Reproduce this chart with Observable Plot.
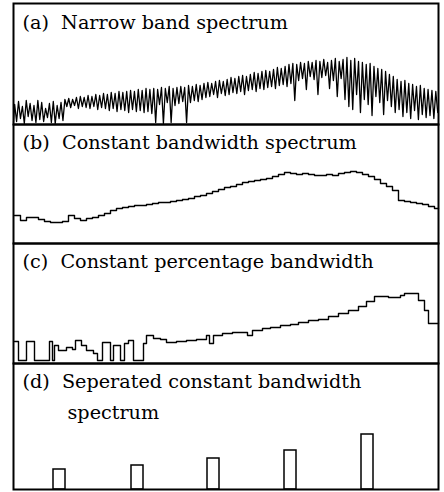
<!DOCTYPE html>
<html><head><meta charset="utf-8">
<script src="https://cdn.jsdelivr.net/npm/d3@7"></script>
<script src="https://cdn.jsdelivr.net/npm/@observablehq/plot@0.6"></script>
<style>
body{margin:0;background:#fff;}
#fig{position:relative;width:444px;height:492px;}
#fig svg{position:absolute;overflow:visible;}
</style></head><body><div id="fig"></div>
<script>
// Panel titles
const titleA = "(a)\u00a0 Narrow band spectrum";
const titleB = "(b)\u00a0 Constant bandwidth spectrum";
const titleC = "(c)\u00a0 Constant percentage bandwidth";
const titleD1 = "(d)\u00a0 Seperated constant bandwidth";
const titleD2 = "spectrum";

// (a) narrow band spectrum: peak and trough levels for each harmonic cycle
const aPeaks = [20,23,18,24,21,19,24,22,16,21,23,19,22,
  25,26,25,27,28,27,29,28,30,29,31,30,32,31,33,32,33,34,33,35,34,36,35,
  36,35,37,36,38,36,37,38,37,39,38,40,39,41,
  42,41,43,44,43,45,47,46,48,49,48,50,52,51,53,54,53,55,57,56,58,60,61,
  60,62,61,63,62,64,63,65,62,64,66,63,65,67,64,
  66,63,62,60,61,58,56,55,53,50,48,
  45,43,44,41,40,38,39,36,35,34,33];
const aTroughs = [3,6,1,8,4,2,5,3,7,2,1,6,4,
  18,17,19,16,18,17,16,18,15,17,16,14,16,13,15,14,12,15,13,14,12,13,11,
  2,20,1,22,2,19,21,23,2,22,24,23,25,27,
  28,30,27,31,29,30,32,31,33,30,34,35,33,36,35,37,38,36,39,40,38,41,24,
  44,46,35,48,45,30,47,49,36,44,28,46,25,18,15,
  30,12,25,20,9,28,22,10,24,18,12,
  15,8,12,6,14,5,10,7,9,6,12];

// (b) constant bandwidth spectrum: level in each equal-width band
const bLevels = [28,23,26,26,24,22,21,21,22,28,25,23,25,26,28,30,33,35,36,37,38,38,39,40,41,41,42,43,44,45,47,48,50,52,54,56,57,59,61,62,63,64,65,67,69,71,70,69,70,69,68,68,69,68,70,71,72,71,69,67,64,60,57,53,43,42,41,40,39,37,35];

// (c) constant percentage bandwidth: band lower edges and levels
const cEdges = [1,5,13,21,36,39,41,45,53,59,62,68,73,80,84,89,97,100,107,111,115,120,130,133,140,147,153,163,173,183,193,196,200,209,219,234,239,249,257,267,277,285,295,305,315,325,335,345,353,361,375,387,391,405,411,415,425];
const cLevels = [22,3,22,3,22,3,18,13,16,14,23,18,13,10,3,21,3,18,3,20,23,3,20,28,25,24,21,22,23,24,28,20,28,30,31,28,33,35,36,38,39,41,43,44,47,50,53,57,62,67,66,68,70,63,53,40];

// (d) separated constant bandwidth spectrum: band centres and levels
const dCenters = [46,124,200,277,354];
const dLevels = [20,24,31,39,55];
const dBandwidth = 12;

const FONT = "DejaVu Serif";
const fig = document.getElementById("fig");

function panel(top, h, marks) {
  const svg = Plot.plot({
    width: 427, height: h + 2, margin: 1,
    x: {domain: [0, 425], axis: null},
    y: {domain: [0, h], axis: null},
    style: {background: "transparent", overflow: "visible", fontFamily: FONT},
    marks: [...marks, Plot.frame({stroke: "black", strokeWidth: 2})]
  });
  svg.style.top = (top - 1) + "px";
  svg.style.left = "12px";
  fig.append(svg);
}
function title(t, dx = 9, dy = 25) {
  return Plot.text([t], {frameAnchor: "top-left", lineAnchor: "bottom", dx, dy, text: d => d,
    fontSize: 19.2, fill: "black", fontFamily: FONT});
}

// (a)
const aStep = 425 / (aPeaks.length * 2);
const aData = [{x: 0, y: 2}];
aPeaks.forEach((p, k) => {
  aData.push({x: (2 * k + 0.6) * aStep, y: p});
  aData.push({x: (2 * k + 1.6) * aStep, y: aTroughs[k]});
});
panel(3, 121, [
  Plot.line(aData, {x: "x", y: "y", stroke: "black", strokeWidth: 1.3, strokeLinejoin: "round"}),
  title(titleA)
]);

// (b)
const bW = 6;
const bData = bLevels.map((v, i) => ({x: 1 + i * bW, y: v}));
bData.push({x: 425, y: bLevels[bLevels.length - 1]});
panel(124, 119, [
  Plot.line(bData, {x: "x", y: "y", curve: "step-after", stroke: "black", strokeWidth: 1.4}),
  title(titleB, 9, 24)
]);

// (c)
const cData = cLevels.map((v, i) => ({x: cEdges[i], y: v}));
cData.push({x: cEdges[cEdges.length - 1], y: cLevels[cLevels.length - 1]});
panel(243, 120, [
  Plot.line(cData, {x: "x", y: "y", curve: "step-after", stroke: "black", strokeWidth: 1.4}),
  title(titleC, 9, 24)
]);

// (d)
const dData = dCenters.map((c, i) => ({c, v: dLevels[i]}));
panel(363, 126, [
  Plot.rect(dData, {x1: d => d.c - dBandwidth / 2, x2: d => d.c + dBandwidth / 2, y1: 0, y2: "v",
    fill: "white", stroke: "black", strokeWidth: 1.5}),
  title(titleD1, 9, 24),
  title(titleD2, 54, 55)
]);
</script></body></html>
